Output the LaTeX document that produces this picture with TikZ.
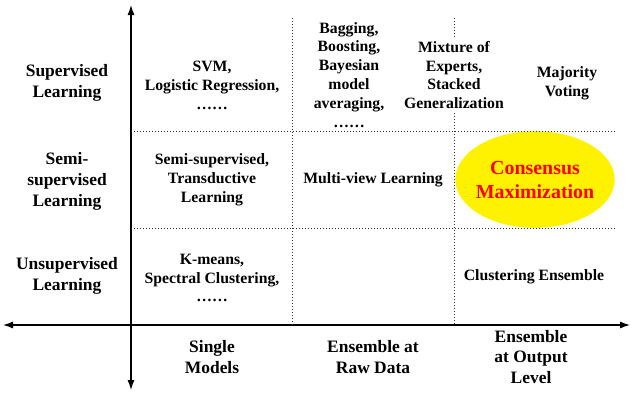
\documentclass[tikz,border=0pt]{standalone}
\usepackage{fontspec}
\setmainfont{Liberation Serif}
\usetikzlibrary{arrows.meta,shapes.geometric}
\tikzset{
  axis/.style={line width=1.2bp, -{Latex[length=10bp,width=7bp]}},
  grid/.style={line width=0.9bp, black!80, dash pattern=on 1.2bp off 1.8bp},
  rowlab/.style={align=center, font=\bfseries\fontsize{17.5}{21}\selectfont},
  cell/.style={align=center, font=\bfseries\fontsize{15.8}{19}\selectfont},
}
\begin{document}
\begin{tikzpicture}[x=1bp, y=-1bp]
  \useasboundingbox (0,0) rectangle (635,393);
  % highlighted cell
  \node[ellipse, fill=yellow, minimum width=160, minimum height=97, inner sep=0pt] (cm) at (535,179.5) {};
  \node[align=center, text=red, font=\bfseries\fontsize{20}{25}\selectfont] (cmtext) at (535,180) {Consensus\\Maximization};
  % axes
  \coordinate (o) at (131,325);
  \draw[axis] (o) -- (131,5);
  \draw[axis] (o) -- (131,390);
  \draw[axis] (o) -- (3,325);
  \draw[axis] (o) -- (630,325);
  % row labels (y axis)
  \node[rowlab] (sup) at (67,83) {Supervised\\Learning};
  \node[rowlab] (semi) at (67,181) {Semi-\\supervised\\Learning};
  \node[rowlab] (unsup) at (67,276) {Unsupervised\\Learning};
  % column labels (x axis)
  \node[rowlab] (single) at (212,357) {Single\\Models};
  \node[rowlab] (raw) at (373,357) {Ensemble at\\Raw Data};
  \node[rowlab] (output) at (531,357) {Ensemble\\at Output\\Level};
  % cells
  \node[cell] (svm) at (212,85) {SVM,\\Logistic Regression,\\……};
  \node[cell] (semisup) at (212,180) {Semi-supervised,\\Transductive\\Learning};
  \node[cell] (kmeans) at (212,278) {K-means,\\Spectral Clustering,\\……};
  \node[cell] (bagging) at (349,75) {Bagging,\\Boosting,\\Bayesian\\model\\averaging,\\……};
  \node[cell] (mix) at (454,75) {Mixture of\\Experts,\\Stacked\\Generalization};
  \node[cell] (vote) at (567,83) {Majority\\Voting};
  \node[cell] (multi) at (373,180) {Multi-view Learning};
  \node[cell] (cluens) at (534,277) {Clustering Ensemble};
  % dotted grid
  \draw[grid] (131,131.5) -- (615,131.5);
  \draw[grid] (131,228) -- (615,228);
  \draw[grid] (292.5,18) -- (292.5,325);
  \draw[grid] (454,18) -- (mix.north);
  \draw[grid] (mix.south) -- (454,325);
\end{tikzpicture}
\end{document}
